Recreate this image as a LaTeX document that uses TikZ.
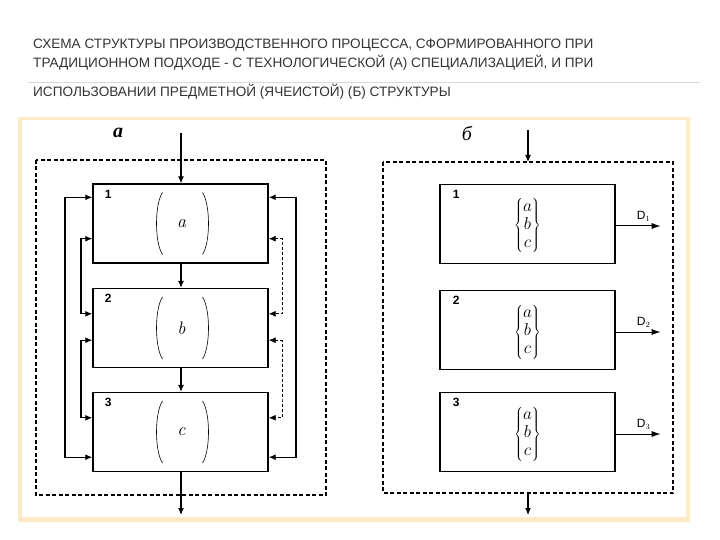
\documentclass[tikz,border=0pt]{standalone}
\usepackage{fontspec}
\newfontfamily\sans{Liberation Sans}
\newfontfamily\serif{Liberation Serif}
\usetikzlibrary{arrows.meta,calc}
\begin{document}
\begin{tikzpicture}[x=1pt,y=-1pt,
  box/.style={draw,line width=1.4pt,minimum width=175pt,minimum height=79pt,inner sep=0pt},
  dbox/.style={draw,line width=1.3pt,dash pattern=on 4pt off 2.5pt},
  ar/.style={line width=1.1pt,-{Latex[length=7pt,width=6pt]}},
  dar/.style={line width=0.8pt,densely dashed,-{Latex[length=7pt,width=6pt]}},
  num/.style={font=\sans\bfseries\fontsize{12}{12}\selectfont},
  ttl/.style={anchor=west,font=\sans\fontsize{13.6}{14}\selectfont,text=black!80,inner sep=0pt},
  paren/.style={line width=0.6pt}]
\useasboundingbox (0,0) rectangle (720,540);
\fill[white] (0,0) rectangle (720,540);
\node[ttl] (t1) at (33,45) {СХЕМА СТРУКТУРЫ ПРОИЗВОДСТВЕННОГО ПРОЦЕССА, СФОРМИРОВАННОГО ПРИ};
\node[ttl] (t2) at (33,63) {ТРАДИЦИОННОМ ПОДХОДЕ - С ТЕХНОЛОГИЧЕСКОЙ (А) СПЕЦИАЛИЗАЦИЕЙ, И ПРИ};
\node[ttl] (t3) at (33,92) {ИСПОЛЬЗОВАНИИ ПРЕДМЕТНОЙ (ЯЧЕИСТОЙ) (Б) СТРУКТУРЫ};
\draw[black!15,line width=0.6pt] (28,82) -- (700,82);
\fill[yellow!25!orange!20] (18,117) rectangle (690,522);
\fill[white] (22,120) rectangle (686,517);
% left
\draw[dbox] (36,160) rectangle (326,495);
\node[font=\serif\bfseries\itshape\fontsize{20}{20}\selectfont] (la) at (118,133) {a};
\node[box] (a1) at (180.5,223.5) {};
\node[box] (a2) at (180.5,328) {};
\node[box] (a3) at (180.5,432) {};
\foreach \n/\l in {1/a,2/b,3/c}{
  \node[num,anchor=north west] at ($(a\n.north west)+(9,3)$) {\n};
  \node[font=\fontsize{18}{18}\selectfont\itshape] at ($(a\n.center)+(1,0)$) {\l};
  \draw[paren] ($(a\n.center)+(-18,-31)$) .. controls +(-8,12) and +(-8,-12) .. ($(a\n.center)+(-18,31)$);
  \draw[paren] ($(a\n.center)+(22,-31)$) .. controls +(8,12) and +(8,-12) .. ($(a\n.center)+(22,31)$);
}
\coordinate (ain) at (181,133);
\coordinate (aout) at (181,515);
\draw[ar] (ain) -- (a1.north -| ain);
\draw[ar] (a1.south -| ain) -- (a2.north -| ain);
\draw[ar] (a2.south -| ain) -- (a3.north -| ain);
\draw[ar] (a3.south -| ain) -- (aout);
% left loops
\draw[ar,{Latex[length=7pt,width=6pt]}-{Latex[length=7pt,width=6pt]}] ($(a1.north west)+(0,14)$) -| (65,440) |- ($(a3.south west)+(0,-15)$);
\draw[ar,{Latex[length=7pt,width=6pt]}-{Latex[length=7pt,width=6pt]}] ($(a1.south west)+(0,-25)$) -| (81,290) |- ($(a2.north west)+(0,26)$);
\draw[ar,{Latex[length=7pt,width=6pt]}-{Latex[length=7pt,width=6pt]}] ($(a2.south west)+(0,-28)$) -| (81,400) |- ($(a3.north west)+(0,26)$);
\draw[ar,{Latex[length=7pt,width=6pt]}-{Latex[length=7pt,width=6pt]}] ($(a1.north east)+(0,14)$) -| (296,440) |- ($(a3.south east)+(0,-15)$);
\draw[dar,{Latex[length=7pt,width=6pt]}-{Latex[length=7pt,width=6pt]}] ($(a1.south east)+(0,-25)$) -| (282,290) |- ($(a2.north east)+(0,26)$);
\draw[dar,{Latex[length=7pt,width=6pt]}-{Latex[length=7pt,width=6pt]}] ($(a2.south east)+(0,-28)$) -| (282,400) |- ($(a3.north east)+(0,26)$);
% right
\draw[dbox] (383,162) rectangle (673,493);
\node[font=\serif\itshape\fontsize{20}{20}\selectfont] (lb) at (467,133) {б};
\node[box] (b1) at (527.5,224) {};
\node[box] (b2) at (527.5,330) {};
\node[box] (b3) at (527.5,432) {};
\foreach \n in {1,2,3}{
  \node[num,anchor=north west] at ($(b\n.north west)+(10,3)$) {\n};
  \node[font=\fontsize{17}{17}\selectfont,inner sep=0pt] at ($(b\n.center)+(0,2)$) {$\left\{\begin{array}{@{}c@{}}a\\[1pt] b\\[1pt] c\end{array}\right\}$};
  \coordinate (d\n) at ($(b\n.east)+(45,2)$);
  \draw[line width=1pt,-{Latex[length=9pt,width=6pt]}] ($(b\n.east)+(0,2)$) -- (d\n);
  \node[font=\sans\fontsize{12}{12}\selectfont,anchor=south] at ($(d\n)+(-17,-1)$) {D$_\n$};
}
\coordinate (bin) at (528,130);
\coordinate (bout) at (528,515);
\draw[ar] (bin) -- (528,162);
\draw[ar] (528,493) -- (bout);
\end{tikzpicture}
\end{document}
